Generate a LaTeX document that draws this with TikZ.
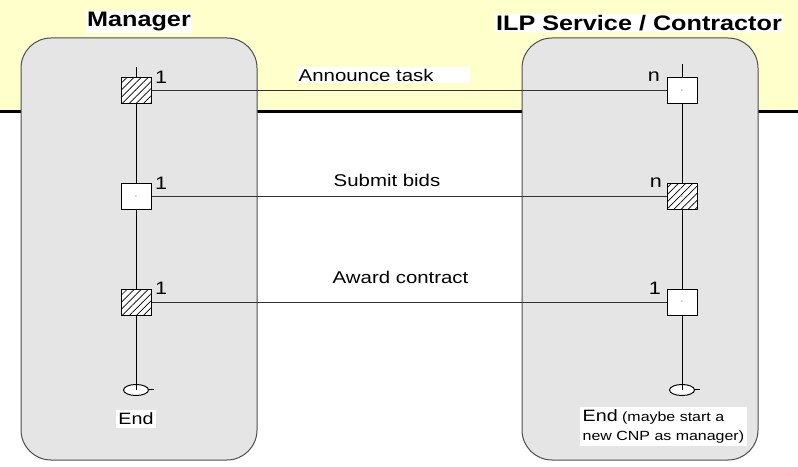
\documentclass[tikz,border=0pt]{standalone}
\usepackage{fontspec}
\setmainfont{Liberation Sans}[FakeStretch=1.2]
\usetikzlibrary{patterns.meta,shapes.geometric}

\definecolor{bandyellow}{HTML}{FFFFCC}
\definecolor{lanegrey}{HTML}{E5E5E5}
\definecolor{edgegrey}{HTML}{4D4D4D}

\newcommand{\slotdot}{{\fontsize{7}{7}\selectfont ·}}
\newcommand{\cnt}[1]{{\fontsize{18}{20}\selectfont #1}}

\tikzset{
  lane/.style={fill=lanegrey, draw=edgegrey, line width=1pt, rounded corners=30pt},
  actor/.style={fill=white, inner sep=1.5pt, font=\bfseries\fontsize{21}{24}\selectfont},
  slot/.style={draw, fill=white, line width=1pt, minimum width=30pt, minimum height=26pt,
    inner sep=0pt},
  busy/.style={slot, postaction={pattern={Lines[angle=45,distance=5pt,line width=0.7pt]}}},
  endmark/.style={draw, fill=white, ellipse, line width=1pt, minimum width=25pt,
    minimum height=11pt, inner sep=0pt},
  msglbl/.style={fill=white, inner sep=2pt, font=\fontsize{17}{20}\selectfont},
  endlbl/.style={fill=white, inner sep=2.5pt, font=\fontsize{16.4}{19}\selectfont},
  life/.style={line width=1pt},
  msg/.style={line width=1pt, draw=black!80}
}

\begin{document}
\begin{tikzpicture}[x=1pt, y=1pt]

  \useasboundingbox (0,0) rectangle (798,466);

  % background band and swimlanes
  \fill[bandyellow] (0,354) rectangle (798,466);
  \draw[line width=3pt] (0,354) -- (798,354);

  \draw[lane] (21,6) rectangle (257,428);
  \draw[lane] (522,6) rectangle (758,428);

  \node[actor] (manager) at (139,444) {Manager};
  \node[actor] (contractor) at (639,443) {ILP Service / Contractor};

  % manager side
  \coordinate (mTop) at (136,399);
  \node[busy, label={[yshift=14pt, xshift=0pt]east:\cnt{1}}] (m1) at (136,375) {\slotdot};
  \node[slot, label={[yshift=14pt, xshift=0pt]east:\cnt{1}}] (m2) at (136,269) {\slotdot};
  \node[busy, label={[yshift=14pt, xshift=0pt]east:\cnt{1}}] (m3) at (136,163.5) {\slotdot};
  \node[endmark] (mEnd) at (136,76) {};
  \node[endlbl] (mEndLbl) at (136,47) {End};

  \draw[life] (mTop) -- (m1) -- (m2) -- (m3) -- (mEnd.center);
  \draw[life] (mEnd.east) -- ++(5,0);

  % contractor side
  \coordinate (cTop) at (682,402);
  \node[slot, label={[yshift=14pt, xshift=-3pt]west:\cnt{n}}] (c1) at (682,375) {\slotdot};
  \node[busy, label={[yshift=14pt, xshift=-1pt]west:\cnt{n}}] (c2) at (682,269) {\slotdot};
  \node[slot, label={[yshift=14pt, xshift=-2pt]west:\cnt{1}}] (c3) at (682,163.5) {\slotdot};
  \node[endmark] (cEnd) at (682,76) {};
  \node[endlbl, anchor=north west, align=left, font=\fontsize{13.3}{19}\selectfont] (cEndLbl)
    at (580,59) {{\fontsize{16.4}{19}\selectfont End} (maybe start a\\new CNP as manager)};

  \draw[life] (cTop) -- (c1) -- (c2) -- (c3) -- (cEnd.center);
  \draw[life] (cEnd.east) -- ++(5,0);

  % messages
  \draw[msg] (m1) -- node[msglbl, pos=0.281, anchor=west, yshift=16pt, text width=169pt] {Announce task} (c1);
  \draw[msg] (m2) -- node[msglbl, pos=0.349, anchor=west, yshift=17pt] {Submit bids} (c2);
  \draw[msg] (m3) -- node[msglbl, pos=0.347, anchor=west, yshift=25.5pt] {Award contract} (c3);

\end{tikzpicture}
\end{document}
